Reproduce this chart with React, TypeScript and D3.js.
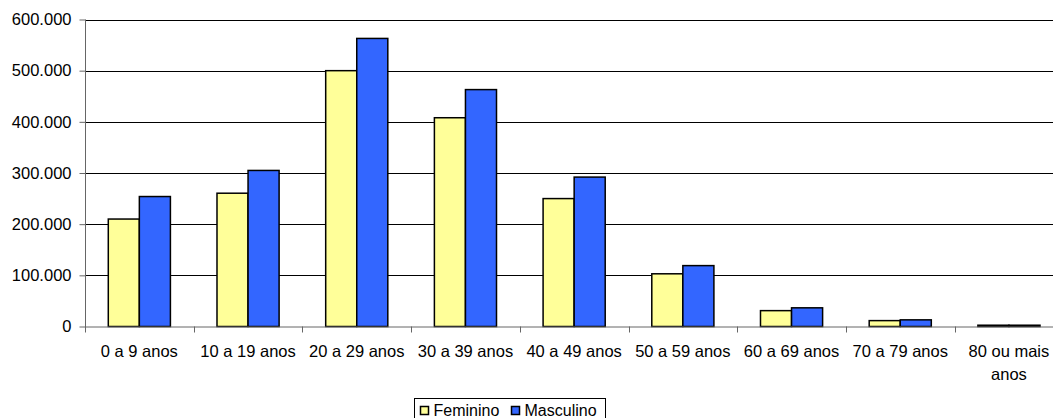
import React, { useEffect, useRef } from 'react';
import * as d3 from 'd3';

const categories = [
  '0 a 9 anos', '10 a 19 anos', '20 a 29 anos', '30 a 39 anos', '40 a 49 anos',
  '50 a 59 anos', '60 a 69 anos', '70 a 79 anos', '80 ou mais anos',
];
const series = ['Feminino', 'Masculino'];
const feminino = [210000, 260500, 500000, 408000, 250000, 103000, 31000, 11500, 2500];
const masculino = [254000, 305000, 563000, 463000, 292000, 119000, 36500, 13000, 2500];
const yTicks = [0, 100000, 200000, 300000, 400000, 500000, 600000];

const colors = ['#FFFF99', '#3366FF'];

const fmt = (v: number) => (v === 0 ? '0' : d3.format(',')(v).replace(/,/g, '.'));

const App: React.FC = () => {
  const ref = useRef<SVGSVGElement>(null);

  useEffect(() => {
    if (!ref.current) return;
    const width = 1053;
    const height = 418;
    const left = 85;
    const top = 19.5;
    const bottom = 326.5;
    const step = 108.7;

    const svg = d3.select(ref.current);
    svg.selectAll('*').remove();
    svg.attr('width', width).attr('height', height);

    const x = d3.scaleBand<string>()
      .domain(categories)
      .range([left, left + step * categories.length])
      .padding(0);
    const xs = d3.scaleBand<string>()
      .domain(series)
      .range([0, x.bandwidth()])
      .paddingInner(0)
      .paddingOuter(0.75);
    const y = d3.scaleLinear().domain([0, 600000]).range([bottom, top]);

    const font = 'Liberation Sans, Arial, sans-serif';

    // gridlines
    svg.append('g')
      .selectAll('line')
      .data(yTicks.filter(d => d > 0))
      .enter()
      .append('line')
      .attr('x1', left)
      .attr('x2', width)
      .attr('y1', d => Math.round(y(d)) + 0.5)
      .attr('y2', d => Math.round(y(d)) + 0.5)
      .attr('stroke', '#000')
      .attr('stroke-width', 1);

    // y axis
    const yAxis = d3.axisLeft(y).tickValues(yTicks).tickSize(6).tickFormat(d => fmt(+d));
    const gy = svg.append('g')
      .attr('transform', `translate(${left + 0.5},0)`)
      .call(yAxis);
    gy.select('.domain').attr('stroke', '#666').attr('d', `M0,${top}V${bottom + 6}`);
    gy.selectAll('.tick line').attr('stroke', '#666');
    gy.selectAll('.tick text')
      .attr('x', -14)
      .attr('fill', '#000')
      .style('font-family', font)
      .style('font-size', '16.5px');

    // bars
    const data = categories.map((c, i) => ({ c, vals: [feminino[i], masculino[i]] }));
    const groups = svg.append('g')
      .selectAll('g')
      .data(data)
      .enter()
      .append('g')
      .attr('transform', d => `translate(${x(d.c)},0)`);

    groups.selectAll('rect')
      .data(d => d.vals.map((v, i) => ({ key: series[i], v, i })))
      .enter()
      .append('rect')
      .attr('x', d => xs(d.key) ?? 0)
      .attr('y', d => y(d.v))
      .attr('width', xs.bandwidth())
      .attr('height', d => bottom - y(d.v))
      .attr('fill', d => colors[d.i])
      .attr('stroke', '#000')
      .attr('stroke-width', 1.5);

    // x axis line + ticks
    const gx = svg.append('g');
    gx.append('line')
      .attr('x1', left)
      .attr('x2', width)
      .attr('y1', bottom + 0.5)
      .attr('y2', bottom + 0.5)
      .attr('stroke', '#666');
    gx.selectAll('line.tk')
      .data(categories.slice(1))
      .enter()
      .append('line')
      .attr('class', 'tk')
      .attr('x1', d => Math.round(x(d) ?? 0) + 0.5)
      .attr('x2', d => Math.round(x(d) ?? 0) + 0.5)
      .attr('y1', bottom)
      .attr('y2', bottom + 6)
      .attr('stroke', '#666');

    // x labels
    const labels = gx.selectAll('text')
      .data(categories)
      .enter()
      .append('text')
      .attr('x', d => (x(d) ?? 0) + x.bandwidth() / 2)
      .attr('y', 357)
      .attr('text-anchor', 'middle')
      .style('font-family', font)
      .style('font-size', '16.5px')
      .attr('fill', '#000');
    labels.each(function (d) {
      const t = d3.select(this);
      if (d === '80 ou mais anos') {
        t.append('tspan').attr('x', (x(d) ?? 0) + x.bandwidth() / 2).text('80 ou mais');
        t.append('tspan').attr('x', (x(d) ?? 0) + x.bandwidth() / 2).attr('dy', 23).text('anos');
      } else {
        t.text(d);
      }
    });

    // legend
    const lg = svg.append('g').attr('transform', 'translate(414.5,398.5)');
    lg.append('rect')
      .attr('width', 191)
      .attr('height', 30)
      .attr('fill', '#fff')
      .attr('stroke', '#000');
    const items = lg.selectAll('g.item')
      .data(series)
      .enter()
      .append('g')
      .attr('class', 'item')
      .attr('transform', (d, i) => `translate(${i === 0 ? 6 : 97},8)`);
    items.append('rect')
      .attr('width', 8)
      .attr('height', 8)
      .attr('fill', (d, i) => colors[i])
      .attr('stroke', '#000')
      .attr('stroke-width', 1.5);
    items.append('text')
      .attr('x', 13)
      .attr('y', 9)
      .style('font-family', font)
      .style('font-size', '16px')
      .attr('fill', '#000')
      .text(d => d);
  }, []);

  return (
    <div style={{ position: 'fixed', left: 0, top: 0, background: '#fff' }}>
      <svg ref={ref} style={{ display: 'block' }} />
    </div>
  );
};

export default App;
